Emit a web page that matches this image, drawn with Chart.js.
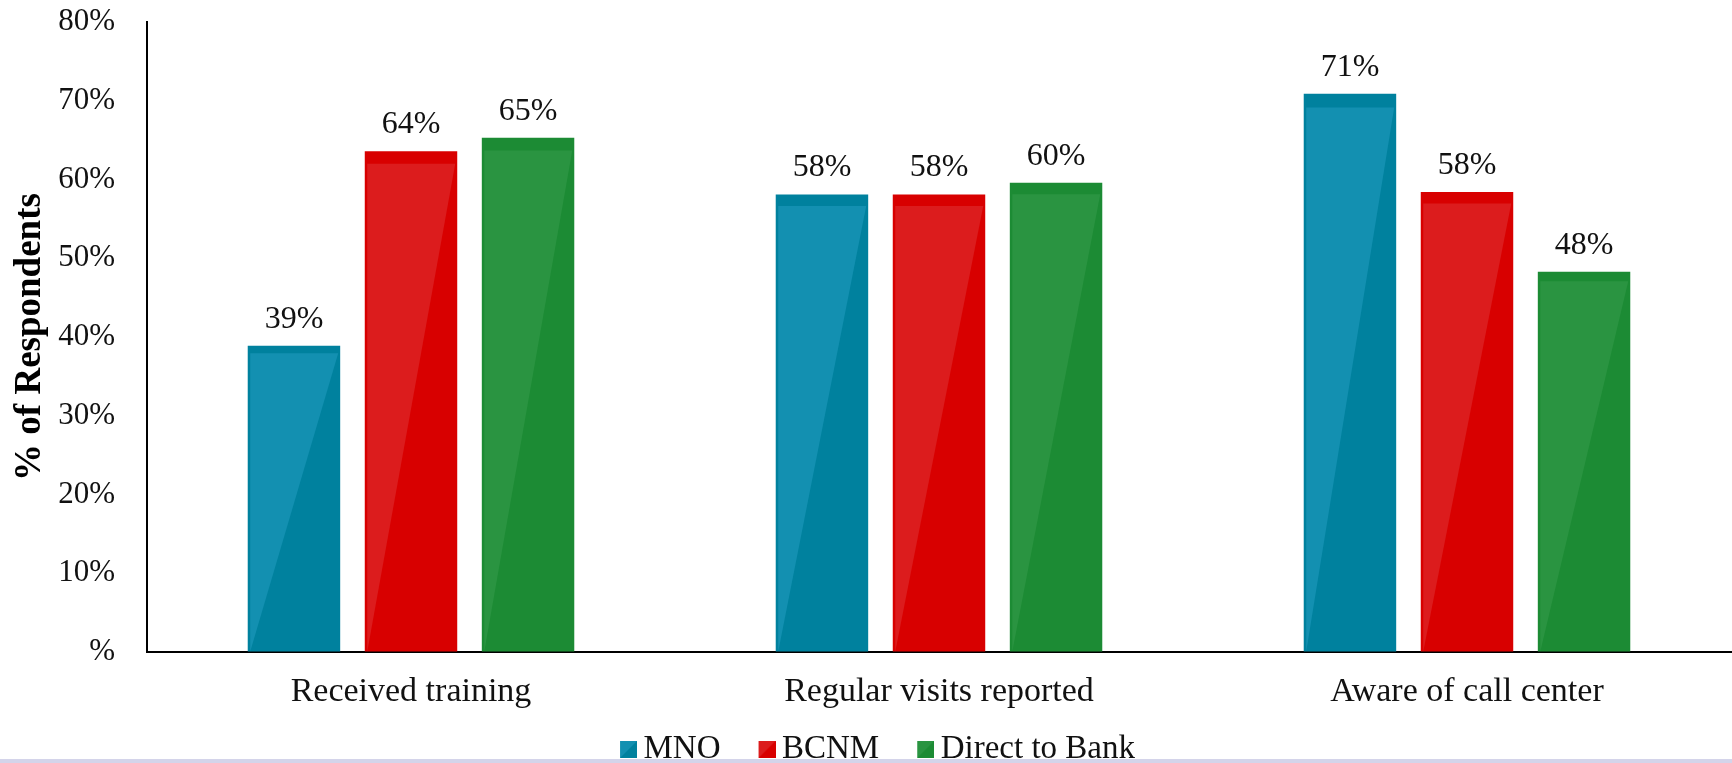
<!DOCTYPE html>
<html>
<head>
<meta charset="utf-8">
<script src="https://cdn.jsdelivr.net/npm/chart.js@4.4.1/dist/chart.umd.min.js"></script>
<style>
  html, body { margin: 0; padding: 0; background: #fff; overflow: hidden; }
  body { width: 1732px; height: 763px; position: relative; }
  #wrap { position: absolute; left: 0; top: 0; width: 1732px; height: 776px; }
  #band { position: absolute; left: 0; top: 759px; width: 1732px; height: 4px; background: #d4d4ea; }
</style>
</head>
<body>
<div id="wrap"><canvas id="chart"></canvas></div>
<div id="band"></div>
<script>
const categories = ['Received training', 'Regular visits reported', 'Aware of call center'];
const seriesNames = ['MNO', 'BCNM', 'Direct to Bank'];
const mnoValues = [38.9, 58.1, 70.9];
const bcnmValues = [63.6, 58.1, 58.4];
const directValues = [65.3, 59.6, 48.3];
const tickLabels = ['%', '10%', '20%', '30%', '40%', '50%', '60%', '70%', '80%'];

const darkColors = ['#00819e', '#d80000', '#1c8b34'];
const lightColors = ['#1390b1', '#dc1c1d', '#2a9441'];
const serif = "'Liberation Serif', 'Times New Roman', serif";

// legend swatch: the square sits at the right end of the canvas so it hugs the text,
// the empty left part widens the gap between legend items
const swatchSlot = 31;
function makeSwatch(i) {
    const c = document.createElement('canvas');
    c.width = swatchSlot + 20; c.height = 17;
    const g = c.getContext('2d');
    const sx = swatchSlot + 3;
    g.fillStyle = darkColors[i];
    g.fillRect(sx, 0, 17, 17);
    g.fillStyle = lightColors[i];
    g.beginPath();
    g.moveTo(sx, 0); g.lineTo(sx + 17, 0); g.lineTo(sx, 17);
    g.closePath();
    g.fill();
    return c;
}
const swatches = [0, 1, 2].map(makeSwatch);

// lighter diagonal sheen over each bar, below a thin darker cap
const glossPlugin = {
    id: 'gloss',
    afterDatasetDraw(chart, args) {
        const ctx = chart.ctx;
        ctx.save();
        ctx.fillStyle = lightColors[args.index];
        args.meta.data.forEach(bar => {
            const { x, y, base, width } = bar.getProps(['x', 'y', 'base', 'width'], true);
            const left = x - width / 2;
            const right = x + width / 2;
            const cap = (base - y) * 0.025;
            ctx.beginPath();
            ctx.moveTo(left + 2.5, y + cap);
            ctx.lineTo(right - 2, y + cap);
            ctx.lineTo(left + 2.5, base);
            ctx.closePath();
            ctx.fill();
        });
        ctx.restore();
    }
};

const valueLabels = {
    id: 'valueLabels',
    afterDatasetsDraw(chart) {
        const ctx = chart.ctx;
        ctx.save();
        ctx.font = `32px ${serif}`;
        ctx.fillStyle = '#111';
        ctx.textAlign = 'center';
        ctx.textBaseline = 'alphabetic';
        chart.data.datasets.forEach((ds, i) => {
            chart.getDatasetMeta(i).data.forEach((bar, j) => {
                ctx.fillText(Math.round(ds.data[j]) + '%', bar.x, bar.y - 18);
            });
        });
        ctx.restore();
    }
};

new Chart(document.getElementById('chart').getContext('2d'), {
    type: 'bar',
    data: {
        labels: categories,
        datasets: [
            { label: seriesNames[0], data: mnoValues, backgroundColor: darkColors[0] },
            { label: seriesNames[1], data: bcnmValues, backgroundColor: darkColors[1] },
            { label: seriesNames[2], data: directValues, backgroundColor: darkColors[2] }
        ]
    },
    options: {
        responsive: true,
        maintainAspectRatio: false,
        animation: false,
        categoryPercentage: 0.665,
        barPercentage: 0.79,
        layout: { padding: { top: 22, right: 1, left: 0, bottom: 0 } },
        scales: {
            x: {
                grid: { display: false, drawTicks: false },
                border: { display: true, color: '#000', width: 2 },
                ticks: { color: '#111', font: { family: serif, size: 34 }, padding: 20 },
                afterFit(scale) { scale.height = 67; }
            },
            y: {
                min: 0,
                max: 80,
                grid: { display: true, color: 'rgba(0,0,0,0)', drawTicks: true, tickLength: 29 },
                border: { display: true, color: '#000', width: 2 },
                ticks: {
                    stepSize: 10,
                    color: '#111',
                    font: { family: serif, size: 31 },
                    padding: 3,
                    callback: (v) => tickLabels[v / 10]
                },
                title: {
                    display: true,
                    text: '% of Respondents',
                    color: '#000',
                    font: { family: serif, size: 37, weight: 'bold' },
                    padding: { top: 8, bottom: 0 }
                },
                afterFit(scale) { scale.width = 147; }
            }
        },
        plugins: {
            tooltip: { enabled: false },
            legend: {
                position: 'bottom',
                labels: {
                    color: '#111',
                    font: { family: serif, size: 33 },
                    boxHeight: 17,
                    pointStyleWidth: swatchSlot,
                    padding: 14,
                    usePointStyle: true,
                    generateLabels: (chart) => chart.data.datasets.map((ds, i) => ({
                        text: ds.label,
                        fillStyle: darkColors[i],
                        strokeStyle: darkColors[i],
                        lineWidth: 0,
                        pointStyle: swatches[i],
                        fontColor: '#111',
                        hidden: false,
                        datasetIndex: i
                    }))
                }
            }
        }
    },
    plugins: [glossPlugin, valueLabels]
});
</script>
</body>
</html>
